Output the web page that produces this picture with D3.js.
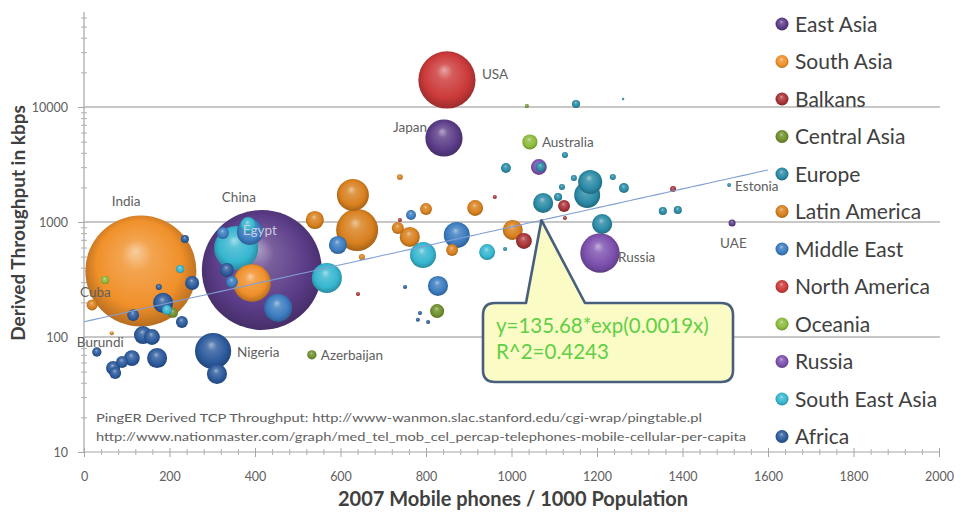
<!DOCTYPE html>
<html><head><meta charset="utf-8">
<script src="https://cdn.jsdelivr.net/npm/d3@7"></script>
<style>
body{margin:0;background:#fff}
svg{display:block;font-family:Lato,"Open Sans",sans-serif}
</style>
</head><body>
<svg id="c" width="961" height="513"></svg>
<script>
// ---------------- DATA ----------------
const regions = ["East Asia","South Asia","Balkans","Central Asia","Europe","Latin America",
  "Middle East","North America","Oceania","Russia","South East Asia","Africa"];
const regionColors = ["#5b3c88","#f0902a","#a83236","#6f8f2c","#2a8aa6","#d8801e",
  "#3b7cc0","#cc3a3a","#8cbc3c","#7c50ae","#36b6d0","#2c5a9c"];
const xTicks = [0,200,400,600,800,1000,1200,1400,1600,1800,2000];
const yTicks = [10,100,1000,10000];
const trendA = 135.68, trendB = 0.0019, trendMaxX = 1600;
const trendText = ["y=135.68*exp(0.0019x)", "R^2=0.4243"];
const footnotes = ["PingER Derived TCP Throughput: http://www-wanmon.slac.stanford.edu/cgi-wrap/pingtable.pl",
  "http://www.nationmaster.com/graph/med_tel_mob_cel_percap-telephones-mobile-cellular-per-capita"];

// each series: [mobile phones per 1000, throughput kbps, population (millions), label]
const eastAsia = [[416,383,1320,"China"],[842,5375,127,"Japan"],[1516,980,4.5,"UAE"]];
const southAsia = [[133,375,1130,"India"],[393,295,130]];
const balkans = [[641,237,1.5],[739,1041,1.5],[961,1650,1.5],[1123,1377,13],[1125,1083,1.5],[1029,684,23],[1378,1936,3.3]];
const centralAsia = [[533,70,8,"Azerbaijan"],[208,162,9],[826,168,18],[1036,10200,1.5]];
const europe = [[1509,2098,1.3,"Estonia"],[1151,10620,6],[1261,11740,0.4],[1125,3828,3.3],[987,2950,9],
  [1068,3007,9],[1146,2414,3.3],[1118,2015,3.3],[1184,2228,53],[1177,1717,62],[1237,2462,3.3],[1263,1977,9],
  [1074,1463,37],[1109,1650,6],[985,582,1.5],[1212,961,37],[1354,1247,6],[1389,1272,6]];
const latinAmerica = [[19,190,11,"Cuba"],[65,108,1.5],[540,1041,30],[629,1717,94],[639,852,162],[650,496,3.3],
  [739,2462,3],[800,1297,13],[734,887,13],[762,741,37],[861,571,13],[915,1324,23],[1003,852,37]];
const middleEast = [[388,819,62,"Egypt"],[325,802,13],[346,301,13],[454,179,72],[594,631,30],[765,1150,9],[872,771,62],[828,278,37]];
const northAmerica = [[849,17180,300,"USA"]];
const oceania = [[1043,4966,21,"Australia"],[49,313,6]];
const russia = [[1207,537,142,"Russia"],[1064,3007,23]];
const southEastAsia = [[356,594,178],[225,390,6],[194,172,9],[384,942,23],[568,326,83],[793,516,62],[943,548,23]];
const africa = [[302,75.5,120,"Nigeria"],[311,47.7,37],[30,74,8,"Burundi"],[236,711,6],[253,295,18],[175,272,3.3],
  [185,198,37],[229,135,13],[115,155,13],[138,104,30],[159,100,23],[112,65.6,23],[68,53.8,18],[89,60.6,13],
  [171,65.6,37],[73,48.6,13],[334,383,18],[751,272,1.5],[786,162,1.5],[781,141,1.5],[805,135,1.5]];
const series = [eastAsia,southAsia,balkans,centralAsia,europe,latinAmerica,middleEast,northAmerica,oceania,russia,southEastAsia,africa];

// ---------------- LAYOUT ----------------
const svg = d3.select("#c");
svg.append("rect").attr("width",961).attr("height",513).attr("fill","#fff");
const x = d3.scaleLinear().domain([0,2000]).range([84,939]);
const y = d3.scaleLog().domain([10,100000]).range([452,-8]);
const r = d3.scaleSqrt().domain([0,1320]).range([0,60]);
const plotTop = 12;

// gradients
const defs = svg.append("defs");
regionColors.forEach((c,i)=>{
  const g = defs.append("radialGradient").attr("id","g"+i)
    .attr("cx","50%").attr("cy","48%").attr("r","55%").attr("fx","45%").attr("fy","32%");
  g.append("stop").attr("offset","0%").attr("stop-color",d3.interpolateRgb(c,"#fff")(0.55));
  g.append("stop").attr("offset","25%").attr("stop-color",d3.interpolateRgb(c,"#fff")(0.18));
  g.append("stop").attr("offset","70%").attr("stop-color",c);
  g.append("stop").attr("offset","100%").attr("stop-color",d3.rgb(c).darker(0.9));
});

// gridlines
svg.append("g").selectAll("line").data(yTicks.slice(1)).join("line")
  .attr("x1",x(0)).attr("x2",x(2000)+1).attr("y1",d=>y(d)).attr("y2",d=>y(d))
  .attr("stroke","#b4b4b4").attr("stroke-width",1.5);

// y axis
const yMinor = y.ticks().filter(v=>y(v)>=plotTop && !yTicks.includes(v));
svg.append("line").attr("x1",x(0)).attr("x2",x(0)).attr("y1",plotTop).attr("y2",y(10))
  .attr("stroke","#a6a6a6").attr("stroke-width",1.2);
const yAx = svg.append("g").attr("transform",`translate(${x(0)},0)`)
  .call(d3.axisLeft(y).tickValues(yTicks).tickFormat(d3.format("d")).tickSize(6).tickPadding(10));
yAx.select(".domain").remove();
yAx.selectAll("line").attr("stroke","#a6a6a6");
yAx.selectAll("text").attr("fill","#606060").attr("font-size",12.5).attr("font-family","Lato,sans-serif");
const yMin = svg.append("g").attr("transform",`translate(${x(0)+3},0)`)
  .call(d3.axisLeft(y).tickValues(yMinor).tickFormat("").tickSize(6));
yMin.select(".domain").remove();
yMin.selectAll("line").attr("stroke","#b0b0b0");

// x axis
const xMinor = d3.range(0,2001,40).filter(v=>v%200!==0);
svg.append("line").attr("x1",x(0)).attr("x2",x(2000)).attr("y1",y(10)).attr("y2",y(10))
  .attr("stroke","#a6a6a6").attr("stroke-width",1.2);
const xAx = svg.append("g").attr("transform",`translate(0,${y(10)-4})`)
  .call(d3.axisBottom(x).tickValues(xTicks).tickSize(9).tickFormat(d3.format("d")));
xAx.select(".domain").remove();
xAx.selectAll("line").attr("stroke","#a6a6a6");
xAx.selectAll("text").attr("y",33).attr("dy",0).attr("fill","#606060").attr("font-size",12.5).attr("font-family","Lato,sans-serif");
const xMin = svg.append("g").attr("transform",`translate(0,${y(10)-3})`)
  .call(d3.axisBottom(x).tickValues(xMinor).tickFormat("").tickSize(6));
xMin.select(".domain").remove();
xMin.selectAll("line").attr("stroke","#b0b0b0");

// axis titles
svg.append("text").attr("x",513).attr("y",506).attr("text-anchor","middle")
  .attr("font-weight","bold").attr("font-size",20).attr("fill","#404040")
  .text("2007 Mobile phones / 1000 Population");
svg.append("text").attr("transform","translate(25,223) rotate(-90)").attr("text-anchor","middle")
  .attr("font-weight","bold").attr("font-size",19).attr("fill","#404040")
  .text("Derived Throughput in kbps");

// footnotes
svg.append("text").attr("x",96).attr("y",422).attr("font-size",12).attr("fill","#606060")
  .attr("textLength",606).attr("lengthAdjust","spacingAndGlyphs").text(footnotes[0]);
svg.append("text").attr("x",96).attr("y",441).attr("font-size",12).attr("fill","#606060")
  .attr("textLength",650).attr("lengthAdjust","spacingAndGlyphs").text(footnotes[1]);

// bubbles
const pts = [];
series.forEach((s,i)=>s.forEach(d=>pts.push({x:d[0],y:d[1],size:d[2],label:d[3],ri:i})));
pts.sort((a,b)=>b.size-a.size);
svg.append("g").selectAll("circle").data(pts).join("circle")
  .attr("cx",d=>x(d.x)).attr("cy",d=>y(d.y)).attr("r",d=>Math.max(1.2,r(d.size)))
  .attr("fill",d=>`url(#g${d.ri})`);

// trend line
const trendX = d3.range(0,trendMaxX+1,20);
svg.append("path").datum(trendX)
  .attr("d",d3.line().x(v=>x(v)).y(v=>y(trendA*Math.exp(trendB*v))))
  .attr("fill","none").attr("stroke","#7f9ed4").attr("stroke-width",1.1);

// point labels
const labelPos = {China:[-40,-68,"start"],India:[-29,-65,"start"],USA:[35,-1,"start"],Japan:[-17,-6,"end"],
  Australia:[12,5,"start"],Russia:[18,9,"start"],Estonia:[6,6,"start"],UAE:[-12,25,"start"],
  Nigeria:[24,6,"start"],Azerbaijan:[9,5,"start"],Cuba:[-12,-8,"start"],Burundi:[-20,-5,"start"],Egypt:[-7,3,"start"]};
svg.append("g").selectAll("text").data(pts.filter(d=>d.label)).join("text")
  .attr("x",d=>x(d.x)+labelPos[d.label][0]).attr("y",d=>y(d.y)+labelPos[d.label][1])
  .attr("text-anchor",d=>labelPos[d.label][2])
  .attr("font-size",13.5).attr("fill",d=>d.label==="Egypt"?"#c8cce0":"#606060")
  .text(d=>d.label);

// callout
const tipV = 1070;
const tx = x(tipV), ty = y(trendA*Math.exp(trendB*tipV));
const L=483,T=303,R=733,B=382,rr=12,a=526,b=585;
svg.append("path")
  .attr("d",`M${L+rr},${T}H${a}L${tx},${ty}L${b},${T}H${R-rr}Q${R},${T} ${R},${T+rr}V${B-rr}Q${R},${B} ${R-rr},${B}H${L+rr}Q${L},${B} ${L},${B-rr}V${T+rr}Q${L},${T} ${L+rr},${T}Z`)
  .attr("fill","#fbfbc6").attr("stroke","#475f7c").attr("stroke-width",2.6).attr("stroke-linejoin","round");
svg.append("g").selectAll("text").data(trendText).join("text")
  .attr("x",496).attr("y",(d,i)=>333+i*26).attr("font-size",20.5).attr("fill","#5fcf45").text(d=>d);

// legend
const lg = svg.append("g").selectAll("g").data(regions).join("g")
  .attr("transform",(d,i)=>`translate(782,${24+i*37.5})`);
lg.append("circle").attr("r",6.5).attr("fill",(d,i)=>`url(#g${i})`);
lg.append("text").attr("x",13).attr("y",7.5).attr("font-size",21).attr("fill","#404040").text(d=>d);
</script>
</body></html>
